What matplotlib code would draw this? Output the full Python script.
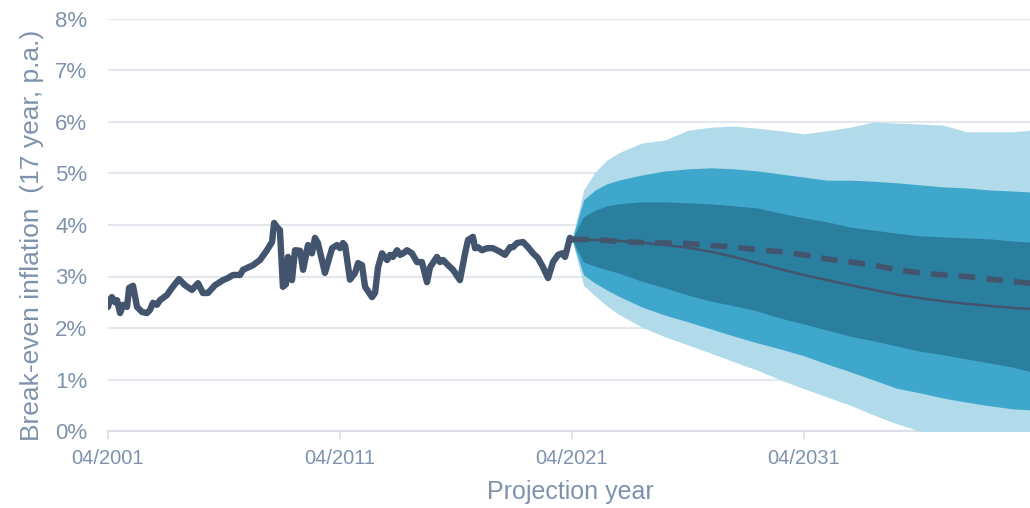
import matplotlib
matplotlib.use("Agg")
import matplotlib.pyplot as plt
import numpy as np

# Historical break-even inflation (decimal year, % p.a.)
hist_year = [2001.25, 2001.34, 2001.42, 2001.55, 2001.64, 2001.77, 2001.90, 2002.07, 2002.16,
             2002.33, 2002.50, 2002.72, 2002.93, 2003.06, 2003.19, 2003.36, 2003.49, 2003.79,
             2004.01, 2004.31, 2004.57, 2004.87, 2005.13, 2005.34, 2005.56, 2005.86, 2006.21,
             2006.42, 2006.64, 2006.94, 2007.07, 2007.50, 2007.80, 2008.10, 2008.32, 2008.41,
             2008.53, 2008.66, 2008.79, 2008.92, 2009.01, 2009.18, 2009.31, 2009.53, 2009.66,
             2009.87, 2010.04, 2010.17, 2010.30, 2010.60, 2010.91, 2011.12, 2011.25, 2011.38,
             2011.47, 2011.68, 2011.90, 2012.03, 2012.20, 2012.33, 2012.63, 2012.76, 2012.89,
             2013.06, 2013.28, 2013.41, 2013.53, 2013.71, 2013.84, 2013.97, 2014.14, 2014.35,
             2014.57, 2014.78, 2015.00, 2015.13, 2015.43, 2015.56, 2015.69, 2015.91, 2016.12,
             2016.42, 2016.64, 2016.77, 2016.98, 2017.07, 2017.20, 2017.37, 2017.59, 2017.84,
             2018.15, 2018.36, 2018.58, 2018.71, 2018.88, 2019.14, 2019.35, 2019.57, 2019.78,
             2020.00, 2020.22, 2020.43, 2020.65, 2020.82, 2020.95, 2021.16, 2021.25]
hist_rate = [2.41, 2.55, 2.60, 2.50, 2.54, 2.29, 2.45, 2.41, 2.78,
             2.82, 2.41, 2.31, 2.29, 2.35, 2.49, 2.45, 2.54, 2.64,
             2.78, 2.95, 2.83, 2.74, 2.87, 2.68, 2.68, 2.83, 2.93,
             2.97, 3.03, 3.03, 3.13, 3.22, 3.32, 3.51, 3.67, 4.04,
             3.96, 3.90, 2.80, 2.85, 3.38, 2.93, 3.51, 3.50, 3.13,
             3.61, 3.45, 3.75, 3.65, 3.07, 3.55, 3.61, 3.55, 3.65,
             3.60, 2.94, 3.07, 3.26, 3.22, 2.80, 2.60, 2.68, 3.18,
             3.45, 3.32, 3.42, 3.38, 3.51, 3.42, 3.45, 3.51, 3.45,
             3.28, 3.28, 2.89, 3.18, 3.38, 3.28, 3.32, 3.22, 3.13,
             2.93, 3.45, 3.71, 3.77, 3.55, 3.57, 3.51, 3.55, 3.55,
             3.48, 3.42, 3.57, 3.57, 3.65, 3.67, 3.57, 3.45, 3.36,
             3.18, 2.97, 3.28, 3.42, 3.45, 3.38, 3.75, 3.72]

# Projection horizon (years after 04/2021)
proj_offset = [0, 0.5, 1, 1.5, 2, 3, 4, 5, 6, 7, 8, 9, 10, 11, 12, 13, 14, 15, 16, 17, 18, 19, 19.75]

outer_hi = [3.72, 4.68, 5.03, 5.26, 5.40, 5.59, 5.65, 5.84, 5.90, 5.92, 5.88, 5.83, 5.77,
            5.83, 5.90, 6.00, 5.98, 5.96, 5.94, 5.81, 5.81, 5.81, 5.84]
mid_hi = [3.72, 4.49, 4.68, 4.80, 4.87, 4.97, 5.05, 5.09, 5.11, 5.09, 5.05, 4.99, 4.93,
          4.87, 4.87, 4.85, 4.82, 4.78, 4.74, 4.72, 4.68, 4.66, 4.64]
inner_hi = [3.72, 4.16, 4.29, 4.37, 4.41, 4.45, 4.45, 4.43, 4.41, 4.37, 4.33, 4.23, 4.14,
            4.06, 3.96, 3.90, 3.84, 3.79, 3.77, 3.75, 3.73, 3.69, 3.67]
inner_lo = [3.72, 3.28, 3.20, 3.13, 3.07, 2.91, 2.78, 2.64, 2.52, 2.43, 2.33, 2.19, 2.08,
            1.96, 1.84, 1.75, 1.65, 1.55, 1.48, 1.40, 1.32, 1.24, 1.15]
mid_lo = [3.72, 3.03, 2.87, 2.74, 2.62, 2.41, 2.25, 2.12, 1.98, 1.84, 1.71, 1.59, 1.46,
          1.30, 1.15, 0.99, 0.83, 0.74, 0.64, 0.56, 0.49, 0.43, 0.41]
outer_lo = [3.72, 2.83, 2.62, 2.43, 2.27, 2.02, 1.83, 1.67, 1.51, 1.34, 1.18, 0.99, 0.82,
            0.66, 0.50, 0.31, 0.14, 0.00, -0.05, -0.05, -0.05, -0.05, -0.05]
median = [3.72, 3.72, 3.71, 3.70, 3.69, 3.66, 3.61, 3.56, 3.48, 3.38, 3.26, 3.14, 3.03,
          2.93, 2.83, 2.74, 2.65, 2.58, 2.52, 2.47, 2.43, 2.39, 2.37]
expected = [3.72, 3.72, 3.71, 3.70, 3.68, 3.66, 3.65, 3.64, 3.60, 3.57, 3.52, 3.48, 3.42,
            3.34, 3.28, 3.22, 3.13, 3.07, 3.03, 3.00, 2.95, 2.90, 2.87]

proj_start = 2021.25
tick_years = [2001.25, 2011.25, 2021.25, 2031.25]
tick_labels = ["04/2001", "04/2011", "04/2021", "04/2031"]

text_color = "#7f92ad"
line_color = "#43546e"
grid_color = "#e3e7ee"

plt.rcParams["font.family"] = ["Liberation Sans", "DejaVu Sans"]

fig = plt.figure(figsize=(10.30, 5.08), dpi=100)
ax = fig.add_axes([108 / 1030, 77 / 508, 922 / 1030, 412 / 508])

proj_year = proj_start + np.array(proj_offset)
ax.fill_between(proj_year, outer_lo, outer_hi, color="#b1dbeb", lw=0, zorder=2)
ax.fill_between(proj_year, mid_lo, mid_hi, color="#3fa6cc", lw=0, zorder=3)
ax.fill_between(proj_year, inner_lo, inner_hi, color="#2a7e9e", lw=0, zorder=4)

ax.plot(proj_year, median, color=line_color, lw=1.8, zorder=5)
ax.plot(proj_year, expected, color=line_color, lw=4.0, dashes=(3.0, 2.0),
        solid_capstyle="butt", zorder=6)
ax.plot(hist_year, hist_rate, color=line_color, lw=4.6, solid_joinstyle="round",
        solid_capstyle="round", zorder=7)

ax.set_xlim(2001.25, 2001.25 + 922 / 23.2)
ax.set_ylim(0, 8)
ax.set_yticks(range(0, 9))
ax.set_yticklabels([f"{v}%" for v in range(0, 9)])
ax.set_xticks(tick_years)
ax.set_xticklabels(tick_labels)

ax.grid(axis="y", color=grid_color, lw=1.5, zorder=0)
ax.set_axisbelow(True)
for side in ("top", "right", "left"):
    ax.spines[side].set_visible(False)
ax.spines["bottom"].set_color("#d9dee7")
ax.spines["bottom"].set_linewidth(1.5)
ax.spines["bottom"].set_zorder(1)

ax.tick_params(axis="y", length=0, pad=15, labelsize=16, labelcolor=text_color)
ax.tick_params(axis="x", length=6, width=1.2, color="#d9dee7", pad=7,
               labelsize=14.5, labelcolor=text_color)

ax.set_ylabel("Break-even inflation  (17 year, p.a.)", color=text_color, fontsize=19)
ax.yaxis.set_label_coords(-0.069, 0.476)
ax.set_xlabel("Projection year", color=text_color, fontsize=18)
ax.xaxis.set_label_coords(0.502, -0.118)

fig.savefig("out.png", dpi=100)
